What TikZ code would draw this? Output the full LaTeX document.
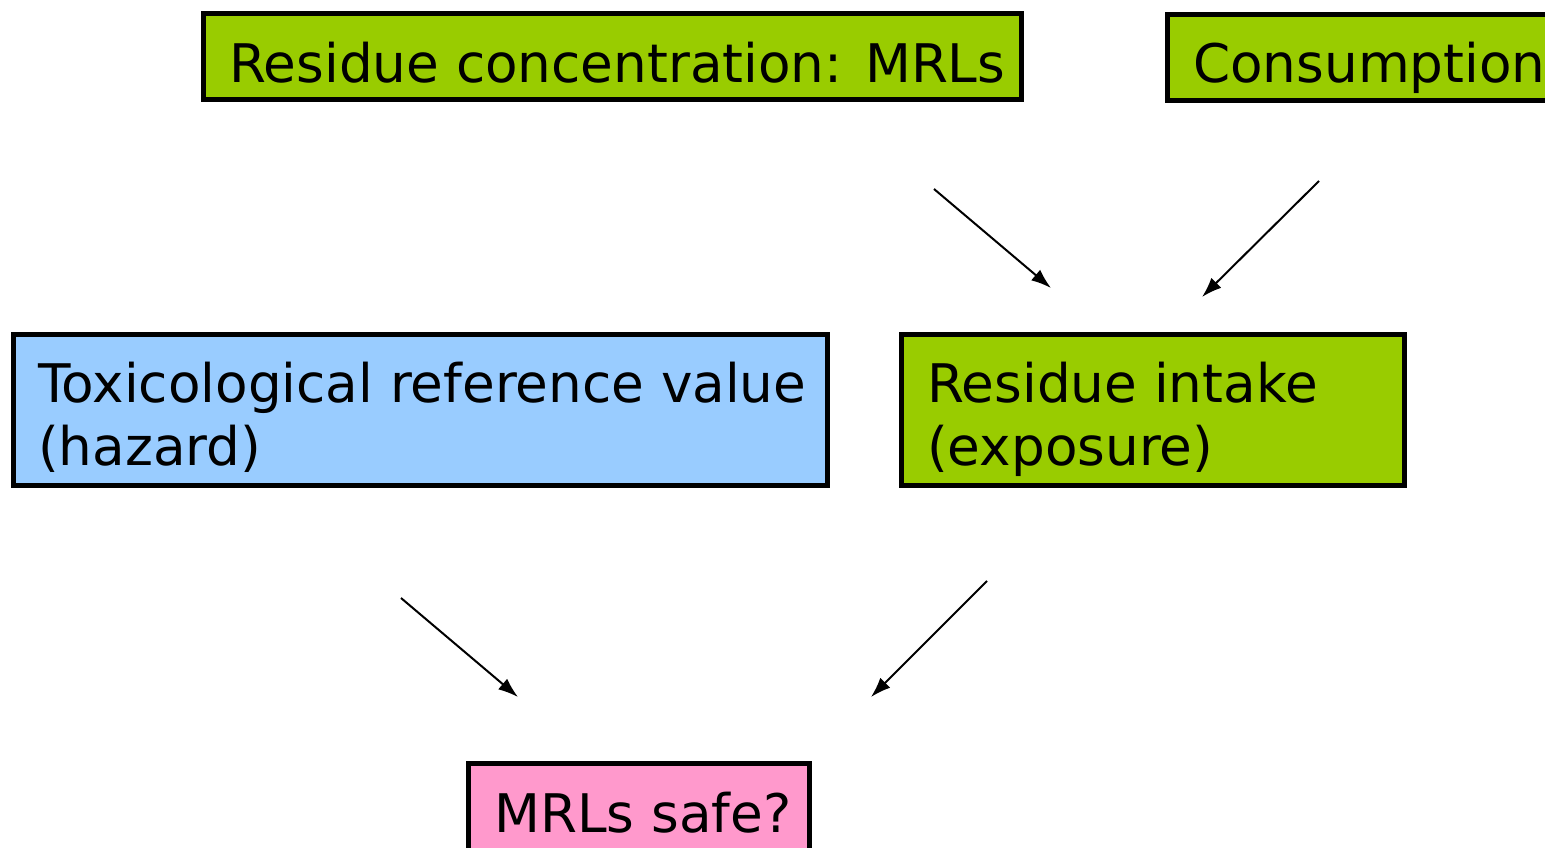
\documentclass[tikz,border=0pt]{standalone}
\usepackage{fontspec}
\setmainfont{DejaVu Sans}
\usetikzlibrary{arrows.meta}
\definecolor{boxgreen}{HTML}{99CC00}
\definecolor{boxblue}{HTML}{99CCFF}
\definecolor{boxpink}{HTML}{FF99CC}
\tikzset{
  box/.style={draw=black, line width=5pt, rectangle, inner sep=0pt, anchor=north west},
  lbl/.style={anchor=base west, inner sep=0pt, align=left, font=\fontsize{53.2}{63}\selectfont},
  flow/.style={line width=2pt, -{Latex[length=20pt,width=14pt]}}
}
\begin{document}
\begin{tikzpicture}[x=1pt,y=-1pt]
\useasboundingbox (0,0) rectangle (1545,847);
\clip (0,0) rectangle (1545,847);
% boxes (anchored at their outer edges)
\node[box, fill=boxgreen, minimum width=818pt, minimum height=86pt] (mrlbox) at (201,11) {};
\node[box, fill=boxgreen, minimum width=420pt, minimum height=86pt] (consbox) at (1165,12) {};
\node[box, fill=boxblue, minimum width=814pt, minimum height=151pt] (toxbox) at (11,332) {};
\node[box, fill=boxgreen, minimum width=503pt, minimum height=151pt] (intakebox) at (899,332) {};
\node[box, fill=boxpink, minimum width=341pt, minimum height=120pt] (safebox) at (466,761) {};
% texts (base = baseline of the last line)
\node[lbl] (mrltxt) at (229,82) {Residue concentration: MRLs};
\node[lbl] (constxt) at (1193,82) {Consumption};
\node[lbl] (toxtxt) at (38,465) {Toxicological reference value\\(hazard)};
\node[lbl] (intaketxt) at (927,465) {Residue intake\\(exposure)};
\node[lbl] (safetxt) at (494,832) {MRLs safe?};
% arrow end points
\coordinate (a1s) at (934,189);
\coordinate (a1e) at (1051,288);
\coordinate (a2s) at (1319,181);
\coordinate (a2e) at (1202,297);
\coordinate (a3s) at (401,598);
\coordinate (a3e) at (518,697);
\coordinate (a4s) at (987,581);
\coordinate (a4e) at (871,697);
\draw[flow] (a1s) -- (a1e);
\draw[flow] (a2s) -- (a2e);
\draw[flow] (a3s) -- (a3e);
\draw[flow] (a4s) -- (a4e);
\end{tikzpicture}
\end{document}
